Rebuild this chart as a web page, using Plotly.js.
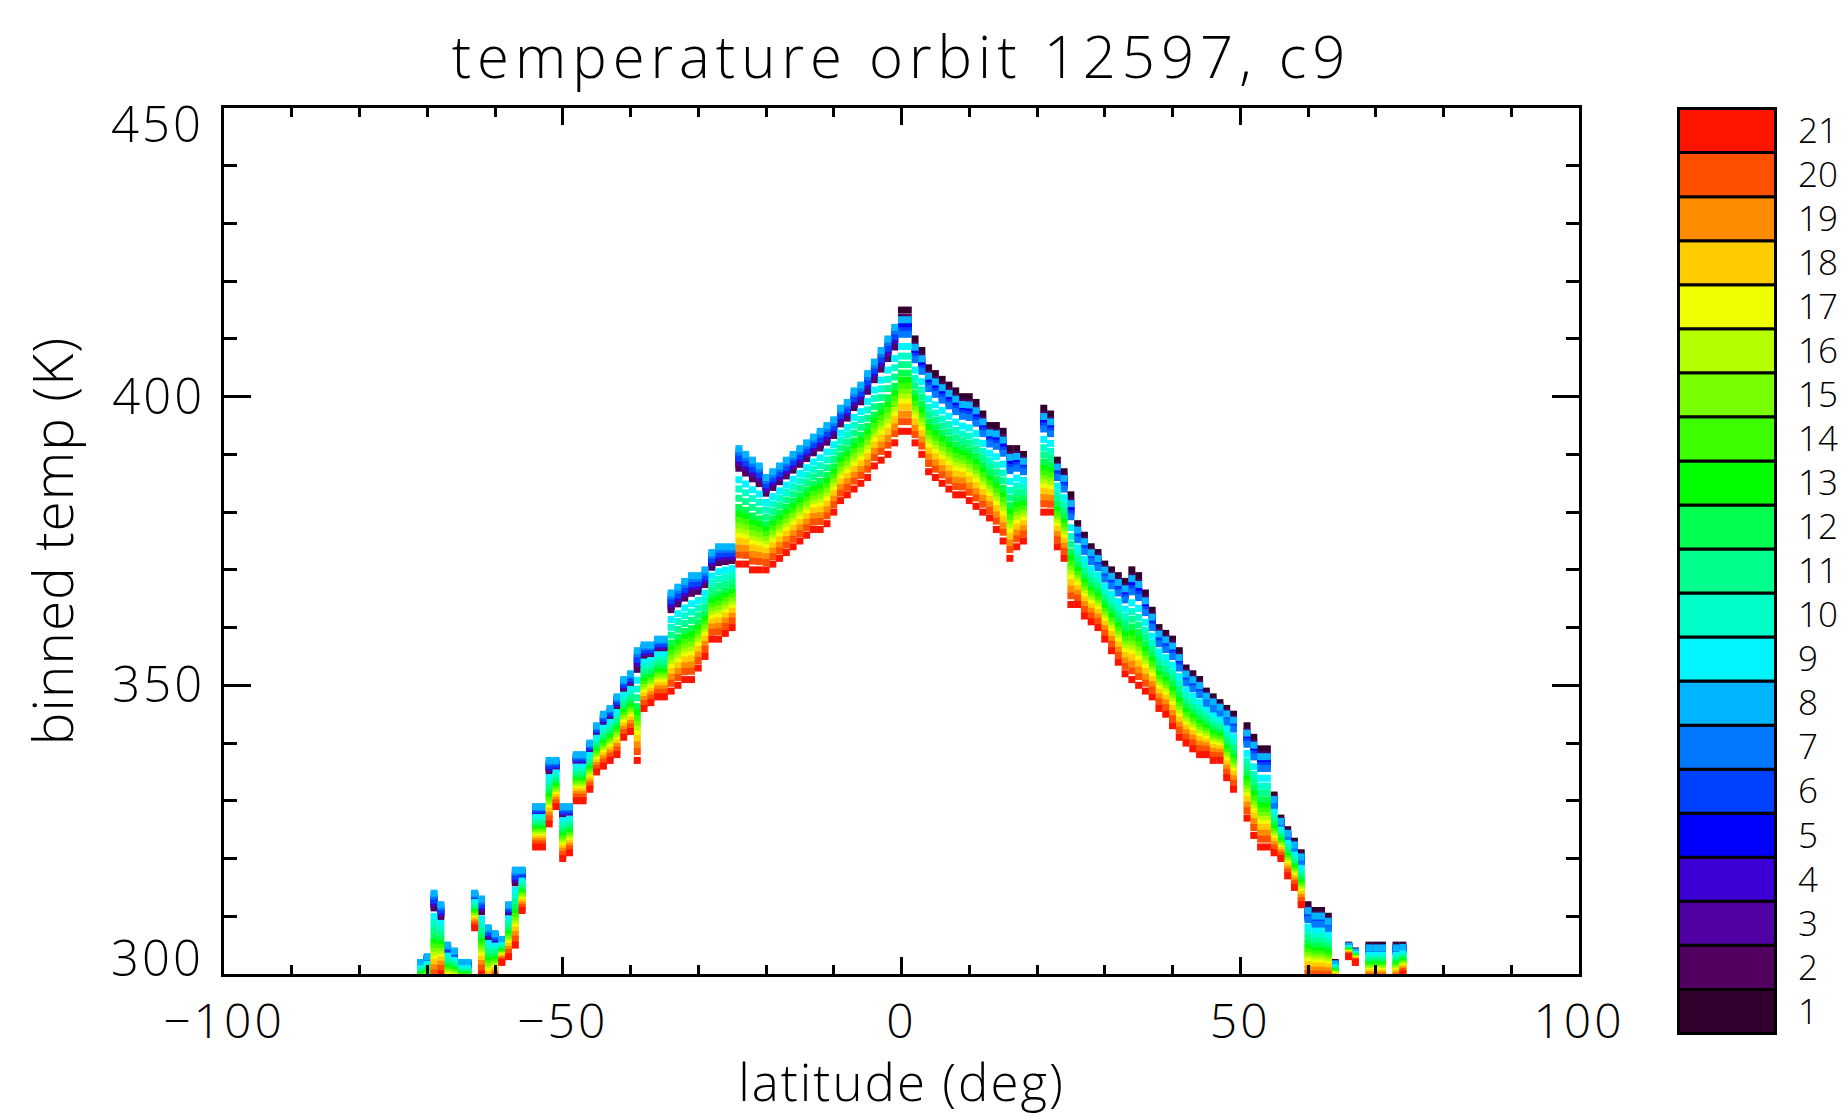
<!DOCTYPE html>
<html><head><meta charset="utf-8">
<script src="https://cdn.plot.ly/plotly-3.0.1.min.js"></script>
<style>
html,body{margin:0;padding:0;background:#fff;overflow:hidden}
.gtitle{letter-spacing:6px}
.xtitle{letter-spacing:2px}
.ytitle{letter-spacing:1px}
.xtick text,.ytick text,.annotation-text{letter-spacing:3px}
</style>
</head><body><div id="chart" style="width:1845px;height:1116px"></div>
<script>
// latitude bins (deg) with the upper and lower edge of the binned temperature band (K)
const latitude = [-71,-70,-69,-68,-67,-66,-65,-64,-63,-62,-61,-60,-59,-58,-57,-56,-54,-53,-52,-51,-50,-49,-48,-47,-46,-45,-44,-43,-42,-41,-40,-39,-38,-37,-36,-35,-34,-33,-32,-31,-30,-29,-28,-27,-26,-25,-24,-23,-22,-21,-20,-19,-18,-17,-16,-15,-14,-13,-12,-11,-10,-9,-8,-7,-6,-5,-4,-3,-2,-1,0,1,2,3,4,5,6,7,8,9,10,11,12,13,14,15,16,17,18,21,22,23,24,25,26,27,28,29,30,31,32,33,34,35,36,37,38,39,40,41,42,43,44,45,46,47,48,49,51,52,53,54,55,56,57,58,59,60,61,62,63,64,66,67,69,70,71,73,74];
const tempTop = [302,303,314,312,305,304,302,302,314,313,308,307,306,312,318,318,329,329,337,337,329,329,338,338,340,343,345,346,348,351,352,356,357,357,358,358,366,367,368,369,369,370,373,374,374,374,391,390,389,388,386,387,388,389,390,391,392,393,394,395,396,398,399,401,402,404,406,408,410,412,415,415,410,408,405,404,403,402,401,400,400,399,397,395,395,394,391,391,390,398,397,389,387,383,378,376,374,373,371,370,369,368,370,369,366,363,360,359,358,356,353,352,351,349,348,347,346,345,343,341,339,339,331,327,325,323,321,312,311,311,310,302,305,304,305,305,305,305,305];
const tempBottom = [298,298,299,300,298,298,298,298,308,300,298,299,302,303,305,311,322,322,326,329,320,321,330,330,332,335,336,337,338,341,342,337,346,347,348,348,349,350,351,351,353,355,358,358,359,360,371,371,370,370,370,371,372,373,374,375,376,377,377,378,380,382,383,384,385,386,388,389,390,392,394,394,392,390,387,386,385,384,383,383,382,381,380,379,377,375,372,374,375,380,380,374,372,364,364,362,361,360,358,356,354,352,351,350,349,348,346,345,343,341,340,339,338,338,337,337,334,332,327,324,322,322,321,320,317,315,312,299,299,299,299,299,303,302,299,299,299,299,300];

// colour channels 1..21 (colour bar)
const channelLabels = ['1','2','3','4','5','6','7','8','9','10','11','12','13','14','15','16','17','18','19','20','21'];
const channelColors = ['#33002e','#510062','#5000a5','#3c00d4','#0000ff','#0040ff','#0078ff','#00b4ff','#00f5ff','#00ffc8','#00ff8c','#00ff50','#00ff00','#3cff00','#78ff00','#b4ff00','#f0ff00','#ffcc00','#ff8c00','#ff5000','#ff1400'];
// where each channel sits inside the band (0 = top edge, 1 = bottom edge), read separately for the southern and northern halves
const channelPositionSouth = [0.14,0.17,0.12,0.10,0.06,0.08,0.03,0.00,0.27,0.35,0.43,0.51,0.57,0.62,0.67,0.72,0.76,0.80,0.86,0.92,1.00];
const channelPositionNorth = [0.00,0.06,0.11,0.15,0.13,0.17,0.20,0.08,0.30,0.38,0.45,0.52,0.58,0.63,0.68,0.72,0.76,0.80,0.86,0.92,1.00];

// y tick labels: inner ones on the axis, the two end ones sit just inside the frame as in the original
const yTickValues = [300, 350, 400, 450];
const yTickLabels = ['300', '350', '400', '450'];

const FONT = 'Open Sans, DejaVu Sans, sans-serif';
const FW = 300;
const traces = [];
channelLabels.forEach((lab, c) => {
  traces.push({
    type: 'scatter', mode: 'markers', xaxis: 'x', yaxis: 'y',
    x: latitude,
    y: latitude.map((la, i) => tempTop[i] - (la < 0 ? channelPositionSouth[c] : channelPositionNorth[c]) * (tempTop[i] - tempBottom[i])),
    marker: {symbol: 'square', size: 7, color: channelColors[c], line: {width: 0}},
    hoverinfo: 'skip', showlegend: false
  });
});
// colour bar drawn as stacked boxes
traces.push({
  type: 'bar', xaxis: 'x2', yaxis: 'y2',
  x: channelLabels.map(() => 0),
  y: channelLabels.map(() => 1),
  base: channelLabels.map((_, i) => i),
  width: 1,
  marker: {color: channelColors, line: {color: '#000', width: 3}},
  hoverinfo: 'skip', showlegend: false
});

const W = 1845, H = 1116;
const mL = 224, mR = 10, mT = 107, mB = 81;
const pw = W - mL - mR, ph = H - mT - mB;
const f = (size) => ({family: FONT, size: size, color: '#000', weight: FW});
const last = yTickValues.length - 1;
const layout = {
  width: W, height: H,
  margin: {l: mL, r: mR, t: mT, b: mB, pad: 0},
  paper_bgcolor: '#fff', plot_bgcolor: '#fff',
  font: f(46),
  title: {text: 'temperature orbit 12597, c9', font: f(58),
          xref: 'paper', x: (1355 / 2) / pw, xanchor: 'center', yref: 'container', y: 1 - 58 / H, yanchor: 'middle'},
  bargap: 0,
  xaxis: {
    domain: [0, 1355 / pw], range: [-100, 100], tickmode: 'linear', tick0: 0, dtick: 50,
    showline: true, linecolor: '#000', linewidth: 3, mirror: 'allticks',
    ticks: 'inside', ticklen: 17, tickwidth: 3, tickcolor: '#000',
    minor: {dtick: 10, tick0: 0, ticks: 'inside', ticklen: 9, tickwidth: 3, tickcolor: '#000'},
    showgrid: false, zeroline: false, ticklabelstandoff: 3,
    tickfont: f(48),
    title: {text: 'latitude (deg)', font: f(51), standoff: 8}
  },
  yaxis: {
    domain: [(1035 - 974) / ph, (1035 - 108) / ph], range: [300, 450],
    tickmode: 'array', tickvals: yTickValues,
    ticktext: yTickLabels.map((t, i) => (i === 0 || i === last) ? '' : t),
    showline: true, linecolor: '#000', linewidth: 3, mirror: 'allticks',
    ticks: 'inside', ticklen: 27, tickwidth: 3, tickcolor: '#000',
    minor: {dtick: 10, tick0: 300, ticks: 'inside', ticklen: 13, tickwidth: 3, tickcolor: '#000'},
    showgrid: false, zeroline: false, ticklabelstandoff: 6,
    tickfont: f(49),
    title: {text: 'binned temp (K)', font: f(55), standoff: 22}
  },
  xaxis2: {
    domain: [(1677 - mL) / pw, (1777 - mL) / pw], range: [-0.515, 0.515], anchor: 'y2',
    showticklabels: false, ticks: '', showline: false, showgrid: false, zeroline: false, fixedrange: true
  },
  yaxis2: {
    domain: [0, 1], range: [-0.035, 21.035], anchor: 'x2', side: 'right',
    tickmode: 'array', tickvals: channelLabels.map((_, i) => i + 0.5), ticktext: channelLabels,
    ticks: '', showline: false, showgrid: false, zeroline: false, ticklabelstandoff: 20,
    tickfont: f(35), fixedrange: true
  },
  annotations: [
    {text: yTickLabels[last], xref: 'paper', x: 0, xanchor: 'right', xshift: -19, yref: 'y', y: yTickValues[last], yanchor: 'middle', yshift: -15, showarrow: false, font: f(49), borderpad: 0},
    {text: yTickLabels[0], xref: 'paper', x: 0, xanchor: 'right', xshift: -19, yref: 'y', y: yTickValues[0], yanchor: 'middle', yshift: 17, showarrow: false, font: f(49), borderpad: 0}
  ]
};
Plotly.newPlot('chart', traces, layout, {displayModeBar: false, staticPlot: true});
</script>
</body></html>
